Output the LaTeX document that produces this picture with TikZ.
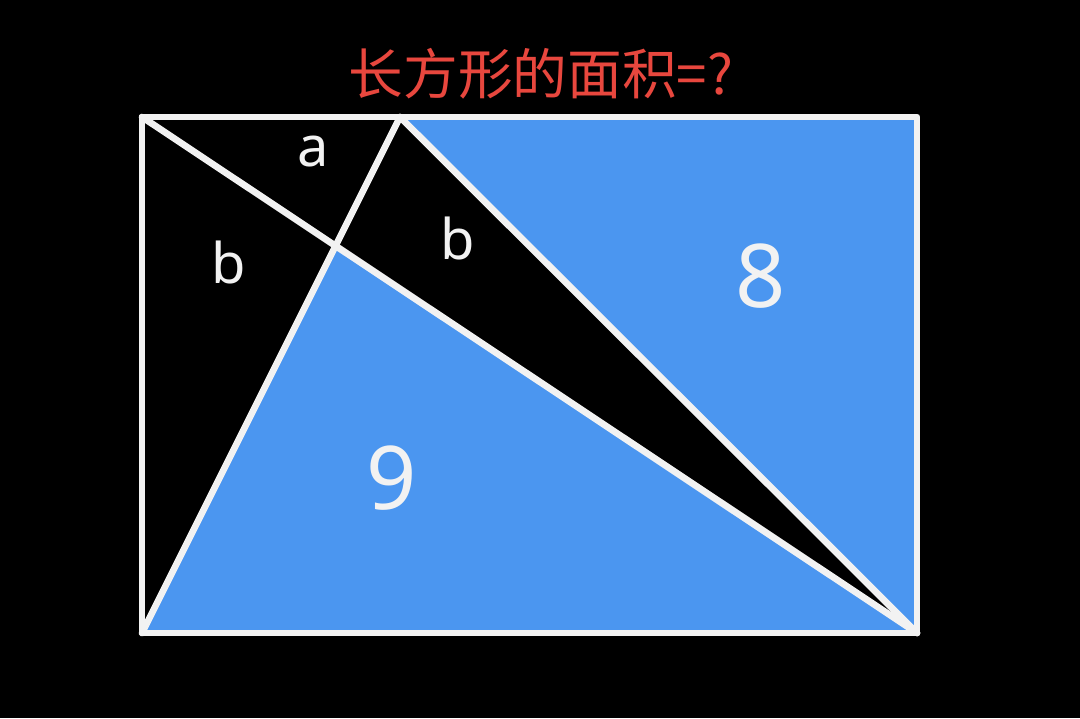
\documentclass[tikz,border=0pt]{standalone}
\usepackage{fontspec}
\setmainfont{Noto Sans}
\newfontfamily\cjkfont{Noto Sans CJK SC}
\usetikzlibrary{positioning}
\definecolor{areablue}{HTML}{4B96F0}
\definecolor{titlered}{HTML}{E8473E}
\definecolor{softwhite}{HTML}{F2F2F2}
\tikzset{edge/.style={draw=softwhite,line width=5pt,line join=round,line cap=round},
         region/.style={fill=areablue,draw=none},
         letter/.style={text=softwhite,font=\fontsize{42}{42}\selectfont},
         number/.style={text=softwhite,font=\fontsize{66}{66}\selectfont},
         title/.style={text=titlered,font=\cjkfont\fontsize{41}{41}\selectfont},
         }
\begin{document}
\begin{tikzpicture}[x=0.75pt,y=-0.75pt]
	\fill[black] (0,0) rectangle (1080,718);
	\useasboundingbox (0,0) rectangle (1080,718);
	% corners of the rectangle
	\coordinate (tl) at (142,117);
	\coordinate (tr) at (917,117);
	\coordinate (br) at (917,633);
	\coordinate (bl) at (142,633);
	\coordinate (p) at (400,117);
	\coordinate (x) at (intersection of tl--br and bl--p);
	% blue parts
	\path[region] (p) -- (tr) -- (br) -- cycle;
	\path[region] (x) -- (bl) -- (br) -- cycle;
	% white lines
	\draw[edge] (tl) -- (br);
	\draw[edge] (bl) -- (p);
	\draw[edge] (p) -- (br);
	\draw[edge] (tl) rectangle (br);
	% labels
	\node[title] (question) at (541,74) {长方形的面积=?};
	\node[letter] (a) at (313,152) {a};
	\node[letter] (bleft) at (229,262) {b};
	\node[letter] (bright) at (458,238) {b};
	\node[number] (eight) at (761,276) {8};
	\node[number] (nine) at (392,478) {9};
\end{tikzpicture}
\end{document}
